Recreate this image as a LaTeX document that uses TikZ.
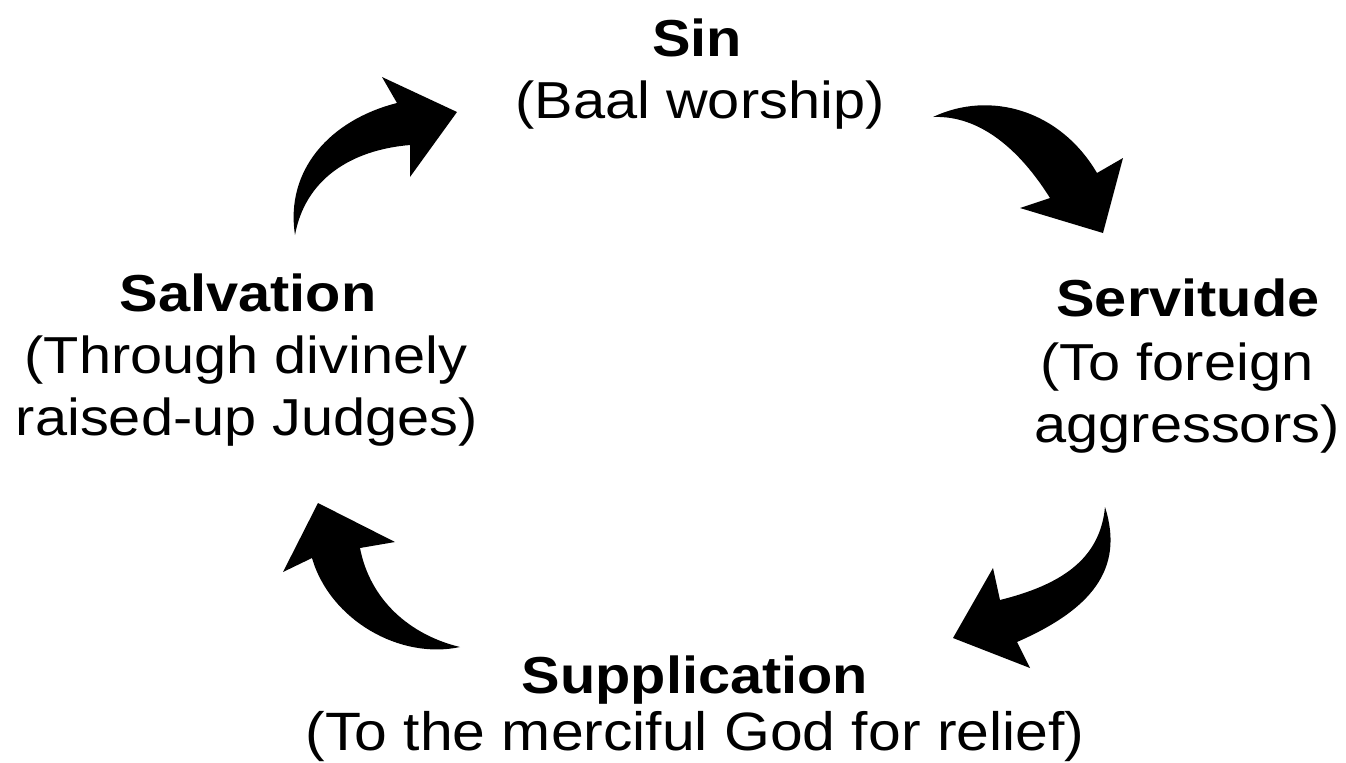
\documentclass[tikz,border=0pt]{standalone}
\usepackage{fontspec}
\setmainfont{Liberation Sans}
\begin{document}
\begin{tikzpicture}[x=0.5pt,y=-0.5pt,
    stage/.style={font=\fontsize{26}{31}\selectfont\bfseries,anchor=base,xscale=1.11,inner sep=0pt},
    note/.style={font=\fontsize{26}{31}\selectfont,anchor=base,xscale=1.11,inner sep=0pt},
    cyclearrow/.style={fill=black}]
    \useasboundingbox (0,0) rectangle (1346,762);
    % the four stages
    \node[stage] (sin) at (697,56) {Sin};
    \node[note] (sinnote) at (700,118) {(Baal worship)};
    \node[stage] (serv) at (1188,316) {Servitude};
    \node[note] (servnote1) at (1177,380) {(To foreign};
    \node[note] (servnote2) at (1187,442) {aggressors)};
    \node[stage] (supp) at (695,693) {Supplication};
    \node[note,font=\fontsize{27}{31}\selectfont,xscale=1.09/1.11] (suppnote) at (695,750) {(To the merciful God for relief)};
    \node[stage] (salv) at (248,311) {Salvation};
    \node[note] (salvnote1) at (246,373) {(Through divinely};
    \node[note] (salvnote2) at (247,435) {raised-up Judges)};
    % curved arrows
    \fill[cyclearrow] (295,235) .. controls (285,170) and (330,120) .. (397,103)
        -- (382,77) -- (457,112) -- (410,177) -- (410,145)
        .. controls (350,150) and (305,180) .. cycle;
    \fill[cyclearrow] (933,117) .. controls (990,90) and (1060,110) .. (1097,173)
        -- (1123,158) -- (1103,233) -- (1020,208) -- (1050,198)
        .. controls (1020,150) and (980,115) .. cycle;
    \fill[cyclearrow] (1105,507) .. controls (1125,570) and (1090,610) .. (1017,642)
        -- (1030,668) -- (953,638) -- (993,568) -- (1000,600)
        .. controls (1060,585) and (1100,560) .. cycle;
    \fill[cyclearrow] (460,647) .. controls (400,660) and (330,620) .. (312,558)
        -- (283,572) -- (318,503) -- (395,542) -- (360,548)
        .. controls (370,600) and (410,635) .. cycle;
\end{tikzpicture}
\end{document}
